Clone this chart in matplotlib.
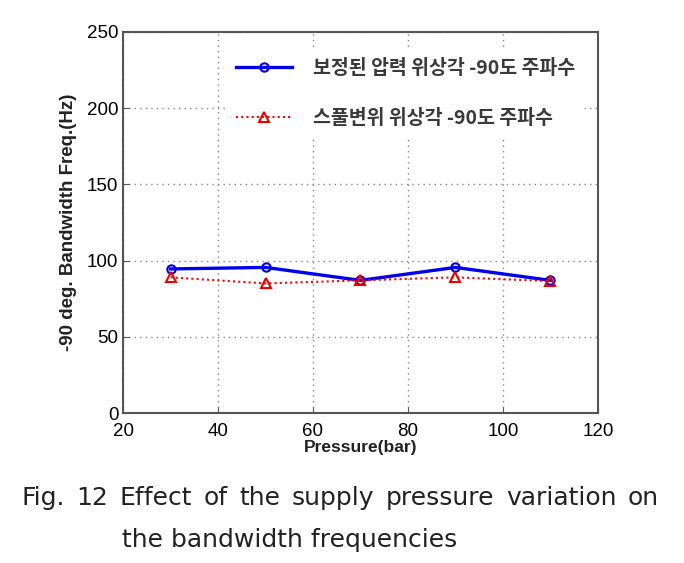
import matplotlib
matplotlib.use("Agg")
import matplotlib.pyplot as plt

pressure = [30, 50, 70, 90, 110]
corrected_pressure_freq = [94.5, 95.5, 87, 95.5, 87]
spool_disp_freq = [89, 85, 87, 89, 86.5]
label_blue = "보정된 압력 위상각 -90도 주파수"
label_red = "스풀변위 위상각 -90도 주파수"
xticks = [20, 40, 60, 80, 100, 120]
yticks = [0, 50, 100, 150, 200, 250]
caption1 = 'Fig. 12 Effect of the supply pressure variation on'
caption2 = 'the bandwidth frequencies'

plt.rcParams['font.family'] = ['Liberation Sans', 'Noto Sans CJK KR']

fig = plt.figure(figsize=(6.84, 5.63), dpi=100)
ax = fig.add_axes([0.18, 0.2664, 0.694, 0.677])

ax.plot(pressure, corrected_pressure_freq, color='#0000ee', lw=2.4, marker='o',
        ms=6, mfc='none', mec='#0000ee', mew=1.5, label=label_blue)
ax.plot(pressure, spool_disp_freq, color='#ff0000', lw=1.5, ls=(0, (1, 1.5)), marker='^',
        ms=7, mfc='none', mec='#ee0000', mew=1.5, label=label_red)

ax.set_xlim(20, 120)
ax.set_ylim(0, 250)
ax.set_xticks(xticks)
ax.set_yticks(yticks)
ax.tick_params(labelsize=13.5, direction='in', length=4, color='#555555')
ax.tick_params(axis='x', pad=7)
ax.grid(True, ls=(0, (1, 3)), color='#888888', lw=1)
for s in ax.spines.values():
    s.set_color('#555555')
    s.set_linewidth(1.5)

ax.set_xlabel('Pressure(bar)', fontsize=12.5, fontweight='bold', labelpad=0, color='#222222')
ax.set_ylabel('-90 deg. Bandwidth Freq.(Hz)', fontsize=13.5, fontweight='bold', labelpad=7,
              color='#222222')

leg = ax.legend(loc='upper left', bbox_to_anchor=(0.20, 0.975), frameon=True,
                facecolor='white', edgecolor='white', framealpha=1,
                prop={'family': ['Noto Sans CJK KR'], 'size': 14, 'weight': 'bold'},
                handlelength=2.9, labelspacing=1.6, handletextpad=1.1)
for t in leg.get_texts():
    t.set_color('#3a3a3a')

# justified caption line 1
fig.canvas.draw()
renderer = fig.canvas.get_renderer()
words = caption1.split(' ')
x0, x1 = 21 / 684, 659 / 684
y1 = 1 - 505 / 563
txts = [fig.text(0, y1, w, fontsize=18, family='DejaVu Sans', color='#222222') for w in words]
widths = [t.get_window_extent(renderer).width / fig.bbox.width for t in txts]
gap = (x1 - x0 - sum(widths)) / (len(words) - 1)
x = x0
for t, w in zip(txts, widths):
    t.set_x(x)
    x += w + gap
fig.text(122 / 684, 1 - 547 / 563, caption2, fontsize=18, family='DejaVu Sans', color='#222222')

fig.savefig('out.png', dpi=100)
